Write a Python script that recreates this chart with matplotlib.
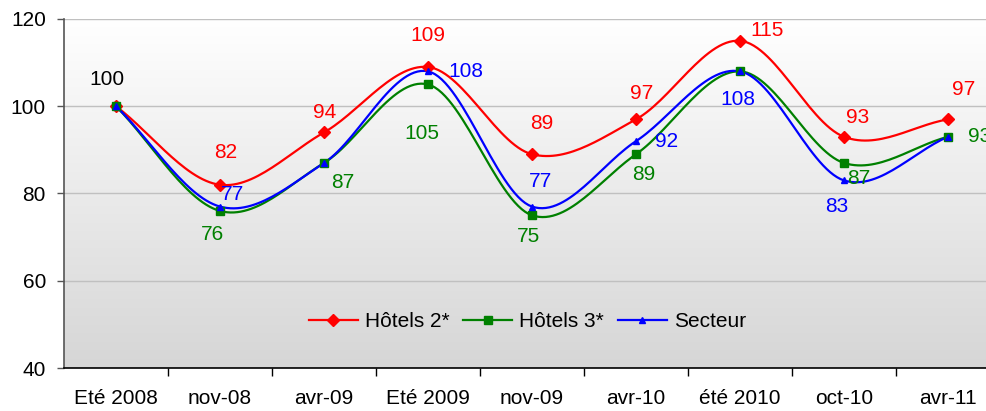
import numpy as np
import matplotlib
matplotlib.use("Agg")
import matplotlib.pyplot as plt

# categories and series
categories = ["Eté 2008", "nov-08", "avr-09", "Eté 2009", "nov-09",
              "avr-10", "été 2010", "oct-10", "avr-11"]
hotels2 = [100, 82, 94, 109, 89, 97, 115, 93, 97]
hotels3 = [100, 76, 87, 105, 75, 89, 108, 87, 93]
secteur = [100, 77, 87, 108, 77, 92, 108, 83, 93]

plt.rcParams['font.family'] = ['Liberation Sans', 'DejaVu Sans']
FS = 15


def smooth(y, n=30):
    # catmull-rom spline through the points (like excel "smoothed line")
    y = np.asarray(y, dtype=float)
    x = np.arange(len(y), dtype=float)
    p = np.concatenate([[2 * y[0] - y[1]], y, [2 * y[-1] - y[-2]]])
    xs, ys = [], []
    for i in range(len(y) - 1):
        t = np.linspace(0, 1, n, endpoint=False)
        p0, p1, p2, p3 = p[i], p[i + 1], p[i + 2], p[i + 3]
        yy = 0.5 * ((2 * p1) + (-p0 + p2) * t + (2 * p0 - 5 * p1 + 4 * p2 - p3) * t ** 2
                    + (-p0 + 3 * p1 - 3 * p2 + p3) * t ** 3)
        xs.append(x[i] + t)
        ys.append(yy)
    xs.append([x[-1]])
    ys.append([y[-1]])
    return np.concatenate(xs), np.concatenate(ys)


fig = plt.figure(figsize=(9.87, 4.11), dpi=100)
ax = fig.add_axes([64 / 987, 43 / 411, 936 / 987, 349 / 411])

# gradient background
grad = np.linspace(0, 1, 256).reshape(-1, 1)
ax.imshow(grad, extent=[0, 1, 0, 1], transform=ax.transAxes, aspect='auto',
          cmap=matplotlib.colors.LinearSegmentedColormap.from_list('g', ['#ffffff', '#d6d6d6']),
          zorder=0, origin='upper')

x = np.arange(len(categories))
series = [
    ("Hôtels 2*", hotels2, '#ff0000', 'D', 6.5),
    ("Hôtels 3*", hotels3, '#008000', 's', 6),
    ("Secteur", secteur, '#0000ff', '^', 5),
]
for name, vals, col, mk, ms in series:
    sx, sy = smooth(vals)
    ax.plot(sx, sy, color=col, lw=1.6, zorder=3)
    ax.plot(x, vals, ls='none', marker=mk, ms=ms, color=col, zorder=4)
    ax.plot([], [], color=col, lw=1.6, marker=mk, ms=ms, label=name)

# data labels: (series values, index, dx px, dy px, ha, colour)
labels = [
    (secteur, 0, -9, 27, 'center', 'black'),
    (hotels2, 1, 6, 32, 'center', '#ff0000'),
    (secteur, 1, 13, 12, 'center', '#0000ff'),
    (hotels3, 1, -8, -24, 'center', '#008000'),
    (hotels2, 2, 1, 20, 'center', '#ff0000'),
    (hotels3, 2, 19, -20, 'center', '#008000'),
    (hotels2, 3, 0, 31, 'center', '#ff0000'),
    (secteur, 3, 20, 0, 'left', '#0000ff'),
    (hotels3, 3, -6, -49, 'center', '#008000'),
    (hotels2, 4, 10, 31, 'center', '#ff0000'),
    (secteur, 4, 8, 25, 'center', '#0000ff'),
    (hotels3, 4, -4, -21, 'center', '#008000'),
    (hotels2, 5, 6, 26, 'center', '#ff0000'),
    (secteur, 5, 19, 0, 'left', '#0000ff'),
    (hotels3, 5, 8, -20, 'center', '#008000'),
    (hotels2, 6, 10, 10, 'left', '#ff0000'),
    (secteur, 6, -2, -28, 'center', '#0000ff'),
    (hotels2, 7, 14, 19, 'center', '#ff0000'),
    (hotels3, 7, 15, -16, 'center', '#008000'),
    (secteur, 7, -7, -26, 'center', '#0000ff'),
    (hotels2, 8, 16, 30, 'center', '#ff0000'),
    (hotels3, 8, 20, 0, 'left', '#008000'),
]
for vals, i, dx, dy, ha, col in labels:
    ax.annotate(str(vals[i]), (x[i], vals[i]), xytext=(dx * 0.72, dy * 0.72),
                textcoords='offset points', ha=ha, va='center',
                fontsize=FS, color=col, zorder=5)

ax.set_xlim(-0.5, len(categories) - 0.5)
ax.set_ylim(40, 120)
ax.set_yticks([40, 60, 80, 100, 120])
ax.set_xticks(x)
ax.set_xticklabels(categories)
ax.set_xticks(np.arange(len(categories)) + 0.5, minor=True)
ax.tick_params(axis='x', which='major', length=0, pad=15, labelsize=FS)
ax.tick_params(axis='x', which='minor', length=6, width=1, color='black')
ax.tick_params(axis='y', length=5, width=1, labelsize=FS, pad=8, color='#555555')
ax.grid(axis='y', color='#c0c0c0', lw=1, zorder=1)
ax.set_axisbelow(True)
for s in ['top', 'right']:
    ax.spines[s].set_visible(False)
ax.spines['left'].set_color('#555555')
ax.spines['bottom'].set_color('black')
ax.spines['left'].set_linewidth(1.2)
ax.spines['bottom'].set_linewidth(1.2)

ax.legend(loc='center', bbox_to_anchor=(0.495, 0.132), ncol=3, frameon=False,
          fontsize=FS, handlelength=2.35, handletextpad=0.35, columnspacing=0.65)

fig.savefig("out.png", dpi=100)
